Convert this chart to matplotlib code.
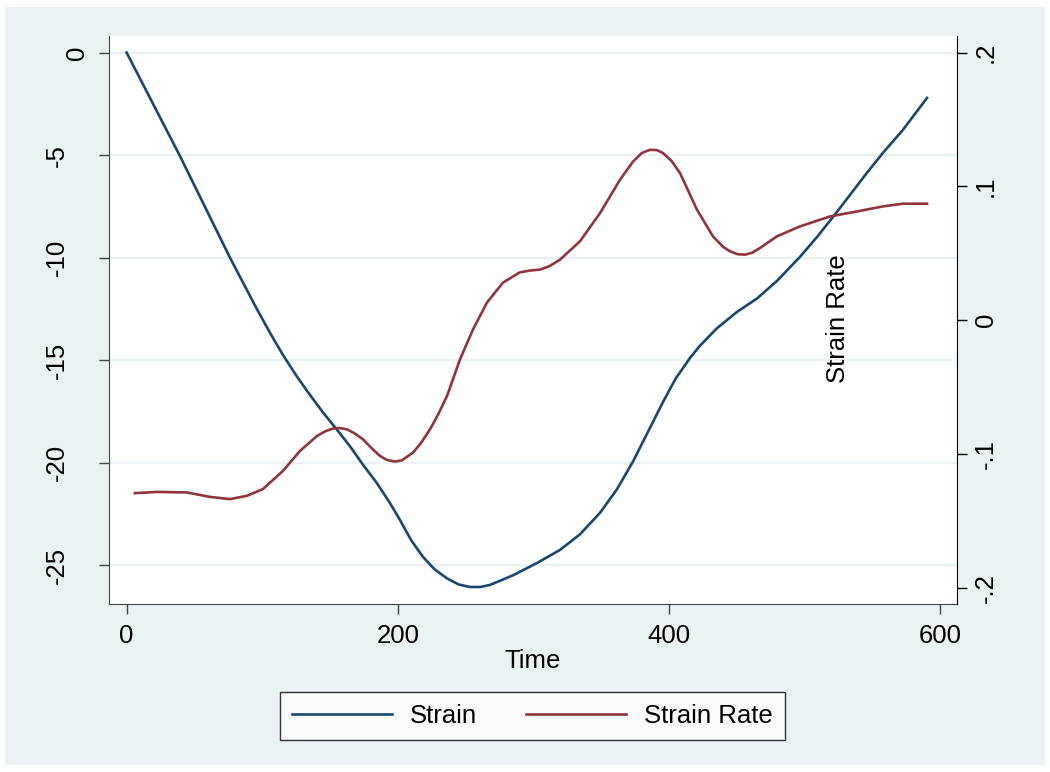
import matplotlib
matplotlib.use("Agg")
import matplotlib.pyplot as plt
from matplotlib.patches import Rectangle
from matplotlib.transforms import ScaledTranslation

plt.rcParams['font.family'] = ['Liberation Sans', 'DejaVu Sans']
plt.rcParams['axes.unicode_minus'] = False

# Strain (left axis)
strain_t = [0, 39.3, 76.2, 96.0, 106.0, 115.3, 125.6, 135.2, 144.8, 155.2, 164.7, 174.3,
            184.6, 194.2, 201.6, 210.0, 218.6, 227.0, 236.3, 245.0, 253.3, 261.0, 268.0,
            285.0, 302.7, 319.7, 334.4, 349.2, 361.7, 373.5, 383.8, 395.6, 405.0,
            415.5, 422.9, 435.4, 450.2, 464.9, 479.7, 496.6, 509.2, 521.0, 533.5,
            546.0, 557.9, 572.6, 590.4]
strain = [0, -5.04, -10.0, -12.5, -13.7, -14.75, -15.8, -16.7, -17.55, -18.4, -19.2, -20.1,
          -21.0, -21.97, -22.8, -23.8, -24.6, -25.2, -25.65, -25.95, -26.07, -26.07, -25.97,
          -25.5, -24.9, -24.26, -23.5, -22.45, -21.3, -19.95, -18.6, -17.05, -15.9,
          -14.9, -14.3, -13.45, -12.65, -12.0, -11.14, -9.97, -9.0, -8.02, -6.95,
          -5.87, -4.89, -3.77, -2.21]

# Strain rate (right axis)
rate_t = [6.1, 22.4, 44.5, 61.4, 76.2, 88.7, 100.5, 115.3, 127.8, 140.4, 147.0,
          152.2, 157.0, 162.5, 168.0, 174.3, 180.5, 186.9, 192.0, 197.9, 203.0,
          211.2, 217.0, 223.8, 230.0, 236.3, 245.9, 255.5, 265.8, 277.6, 290.1,
          298.0, 304.9, 312.0, 319.7, 334.4, 349.2, 363.9, 373.5, 380.0, 386.0,
          391.0, 395.6, 402.0, 408.2, 420.7, 432.5, 440.0, 445.1, 450.5, 456.1,
          461.5, 467.2, 479.7, 496.6, 518.8, 538.7, 557.9, 572.6, 590.4]
rate = [-0.1293, -0.1284, -0.1288, -0.1321, -0.1338, -0.1313, -0.1263, -0.1127,
        -0.0978, -0.0866, -0.0828, -0.0810, -0.0806, -0.0816, -0.0845, -0.0890,
        -0.0955, -0.1015, -0.1045, -0.1057, -0.1048, -0.0990, -0.0920, -0.0816,
        -0.0700, -0.0567, -0.0293, -0.0069, 0.0132, 0.0281, 0.0358, 0.0372,
        0.0378, 0.0405, 0.0453, 0.0590, 0.0801, 0.1050, 0.1186, 0.1250, 0.1274,
        0.1272, 0.1250, 0.1190, 0.1100, 0.0826, 0.0627, 0.0548, 0.0515, 0.0494,
        0.0490, 0.0505, 0.0540, 0.0627, 0.0701, 0.0776, 0.0813, 0.0851,
        0.0871, 0.0871]

left_ticks = [0, -5, -10, -15, -20, -25]
right_ticks = [0.2, 0.1, 0, -0.1, -0.2]
right_labels = ['.2', '.1', '0', '-.1', '-.2']
x_ticks = [0, 200, 400, 600]

navy = '#1a476f'
maroon = '#90353b'
bg = '#eaf2f3'
fs = 18.5

fig = plt.figure(figsize=(10.5, 7.72), dpi=100, facecolor='white')
fig.patches.append(Rectangle((5 / 1050, 7 / 772), 1040 / 1050, 758 / 772,
                             transform=fig.transFigure, facecolor=bg,
                             edgecolor='none', zorder=-10))

ax = fig.add_axes([109 / 1050, 168 / 772, 848 / 1050, 568 / 772])
ax.set_facecolor('white')
ax2 = ax.twinx()

l1, = ax.plot(strain_t, strain, color=navy, lw=1.9, label='Strain')
l2, = ax2.plot(rate_t, rate, color=maroon, lw=1.9, label='Strain Rate')

ax.set_xlim(-13, 612.5)
ax.set_ylim(-26.9, 0.81)
ax2.set_ylim(-0.2122, 0.2125)

ax.set_yticks(left_ticks)
ax.set_yticklabels([str(v) for v in left_ticks], rotation=90, va='center')
ax2.set_yticks(right_ticks)
ax2.set_yticklabels(right_labels, rotation=90, va='center')
ax.set_xticks(x_ticks)

ax.grid(axis='y', color=bg, lw=1.6)
ax.set_axisbelow(True)

for a in (ax, ax2):
    a.spines['top'].set_visible(False)
ax.spines['left'].set_color('#444444')
ax.spines['bottom'].set_color('#444444')
ax.spines['right'].set_visible(False)
ax2.spines['left'].set_visible(False)
ax2.spines['bottom'].set_visible(False)
ax2.spines['right'].set_color('black')

ax.tick_params(axis='both', direction='out', length=7.2, width=1,
               color='#444444', labelsize=fs, pad=7)
ax2.tick_params(axis='y', direction='out', length=7.2, width=1,
                color='black', labelsize=fs, pad=5)

# negative left labels sit one line further out, as in the original
shift = ScaledTranslation(-0.2, 0, fig.dpi_scale_trans)
for lbl in ax.get_yticklabels():
    if lbl.get_text() != '0':
        lbl.set_transform(lbl.get_transform() + shift)

ax.set_xlabel('Time', fontsize=fs, labelpad=1)

fig.text(838 / 1050, (772 - 319) / 772, 'Strain Rate', rotation=90,
         ha='center', va='center', fontsize=fs)

leg = fig.legend(handles=[l1, l2], loc='center', bbox_to_anchor=(532.5 / 1050, 56 / 772),
                 ncol=2, fontsize=fs, frameon=True, fancybox=False,
                 edgecolor='black', handlelength=3.9, handletextpad=0.7,
                 columnspacing=1.9, borderpad=0.45)
leg.get_frame().set_linewidth(1)

fig.savefig('out.png', dpi=100, facecolor='white')
